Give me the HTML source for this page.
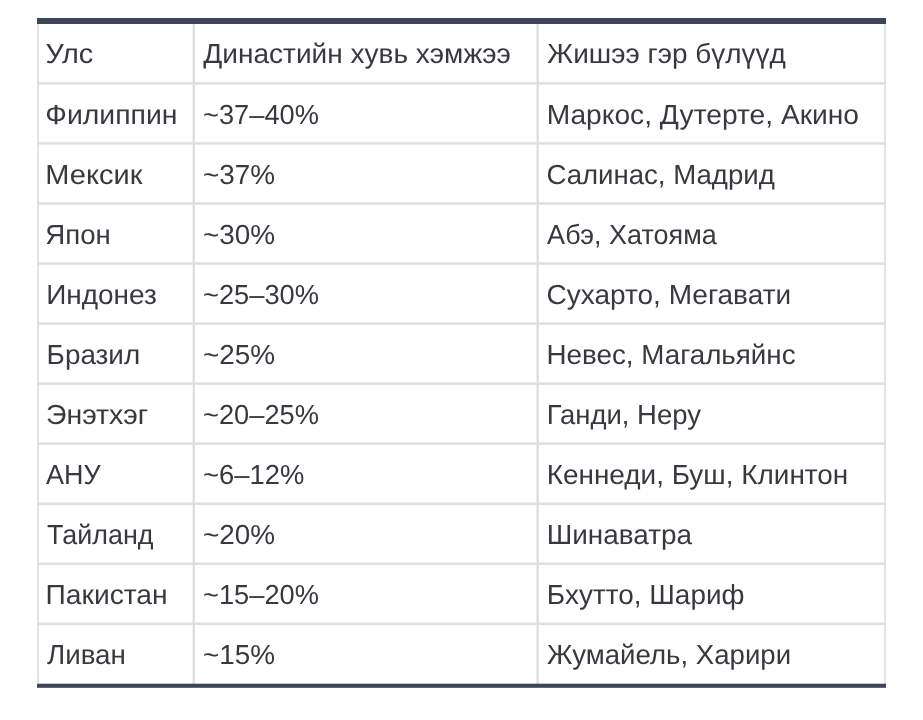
<!DOCTYPE html>
<html lang="mn"><head><meta charset="utf-8"><title>Династийн хувь хэмжээ</title>
<style>
html,body{margin:0;padding:0;background:#fff;}
body{width:923px;height:720px;position:relative;overflow:hidden;text-rendering:geometricPrecision;font-family:"Liberation Sans",sans-serif;color:#38393f;}
svg{position:absolute;left:0;top:0;}
.t{position:absolute;white-space:nowrap;font-size:27.5px;line-height:30px;height:30px;transform-origin:0 0;}
</style></head><body>
<svg width="923" height="720" viewBox="0 0 923 720">
<g fill="#dfdfe2">
<rect x="37.20" y="24" width="1.70" height="660"/>
<rect x="192.55" y="24" width="2.40" height="660"/>
<rect x="536.45" y="24" width="2.40" height="660"/>
<rect x="884.10" y="24" width="1.70" height="660"/>
<rect x="37" y="82.15" width="849" height="2.50"/>
<rect x="37" y="142.19" width="849" height="2.50"/>
<rect x="37" y="202.23" width="849" height="2.50"/>
<rect x="37" y="262.27" width="849" height="2.50"/>
<rect x="37" y="322.31" width="849" height="2.50"/>
<rect x="37" y="382.35" width="849" height="2.50"/>
<rect x="37" y="442.39" width="849" height="2.50"/>
<rect x="37" y="502.43" width="849" height="2.50"/>
<rect x="37" y="562.47" width="849" height="2.50"/>
<rect x="37" y="622.51" width="849" height="2.50"/>
</g><g fill="#3c4656">
<rect x="37" y="18" width="849" height="6"/>
<rect x="37" y="683.7" width="849" height="4.1"/>
</g></svg>
<div class="t" id="c0_0" style="left:45px;top:39px;transform:translateX(0.55px) scaleX(1.0482)">Улс</div>
<div class="t" id="c0_1" style="left:203px;top:39px;transform:translateX(0.31px) scaleX(1.0194)">Династийн хувь хэмжээ</div>
<div class="t" id="c0_2" style="left:547px;top:39px;transform:translateX(0.32px) scaleX(1.0168)">Жишээ гэр бүлүүд</div>
<div class="t" id="c1_0" style="left:45px;top:100px;transform:translateX(0.31px) scaleX(1.0320)">Филиппин</div>
<div class="t" id="c1_1" style="left:203px;top:100px;transform:translateX(0.01px) scaleX(0.9913)">~37–40%</div>
<div class="t" id="c1_2" style="left:546px;top:100px;transform:translateX(0.65px) scaleX(1.0249)">Маркос, Дутерте, Акино</div>
<div class="t" id="c2_0" style="left:45px;top:160px;transform:translateX(0.37px) scaleX(1.0547)">Мексик</div>
<div class="t" id="c2_1" style="left:202px;top:160px;transform:translateX(0.99px) scaleX(1.0134)">~37%</div>
<div class="t" id="c2_2" style="left:546px;top:160px;transform:translateX(0.42px) scaleX(1.0031)">Салинас, Мадрид</div>
<div class="t" id="c3_0" style="left:45px;top:220px;transform:translateX(0.33px) scaleX(1.0042)">Япон</div>
<div class="t" id="c3_1" style="left:202px;top:220px;transform:translateX(0.99px) scaleX(1.0134)">~30%</div>
<div class="t" id="c3_2" style="left:547px;top:220px;transform:translateX(0.12px) scaleX(0.9819)">Абэ, Хатояма</div>
<div class="t" id="c4_0" style="left:46px;top:280px;transform:translateX(0.13px) scaleX(1.0174)">Индонез</div>
<div class="t" id="c4_1" style="left:203px;top:280px;transform:translateX(0.01px) scaleX(0.9913)">~25–30%</div>
<div class="t" id="c4_2" style="left:546px;top:280px;transform:translateX(0.51px) scaleX(1.0189)">Сухарто, Мегавати</div>
<div class="t" id="c5_0" style="left:46px;top:340px;transform:translateX(0.62px) scaleX(1.0128)">Бразил</div>
<div class="t" id="c5_1" style="left:202px;top:340px;transform:translateX(0.99px) scaleX(1.0134)">~25%</div>
<div class="t" id="c5_2" style="left:546px;top:340px;transform:translateX(0.56px) scaleX(1.0100)">Невес, Магальяйнс</div>
<div class="t" id="c6_0" style="left:45px;top:400px;transform:translateX(0.93px) scaleX(1.0357)">Энэтхэг</div>
<div class="t" id="c6_1" style="left:203px;top:400px;transform:translateX(0.01px) scaleX(0.9913)">~20–25%</div>
<div class="t" id="c6_2" style="left:546px;top:400px;transform:translateX(0.63px) scaleX(0.9991)">Ганди, Неру</div>
<div class="t" id="c7_0" style="left:46px;top:460px;transform:translateX(0.12px) scaleX(0.9809)">АНУ</div>
<div class="t" id="c7_1" style="left:203px;top:460px;transform:translateX(0.01px) scaleX(0.9953)">~6–12%</div>
<div class="t" id="c7_2" style="left:546px;top:460px;transform:translateX(0.73px) scaleX(1.0152)">Кеннеди, Буш, Клинтон</div>
<div class="t" id="c8_0" style="left:47px;top:520px;transform:translateX(0.12px) scaleX(0.9772)">Тайланд</div>
<div class="t" id="c8_1" style="left:202px;top:520px;transform:translateX(0.99px) scaleX(1.0134)">~20%</div>
<div class="t" id="c8_2" style="left:546px;top:520px;transform:translateX(0.74px) scaleX(1.0140)">Шинаватра</div>
<div class="t" id="c9_0" style="left:45px;top:580px;transform:translateX(0.56px) scaleX(1.0261)">Пакистан</div>
<div class="t" id="c9_1" style="left:203px;top:580px;transform:translateX(0.01px) scaleX(0.9913)">~15–20%</div>
<div class="t" id="c9_2" style="left:546px;top:580px;transform:translateX(0.72px) scaleX(1.0153)">Бхутто, Шариф</div>
<div class="t" id="c10_0" style="left:46px;top:640px;transform:translateX(0.93px) scaleX(1.0101)">Ливан</div>
<div class="t" id="c10_1" style="left:202px;top:640px;transform:translateX(0.99px) scaleX(1.0134)">~15%</div>
<div class="t" id="c10_2" style="left:547px;top:640px;transform:translateX(0.05px) scaleX(1.0042)">Жумайель, Харири</div>
</body></html>
